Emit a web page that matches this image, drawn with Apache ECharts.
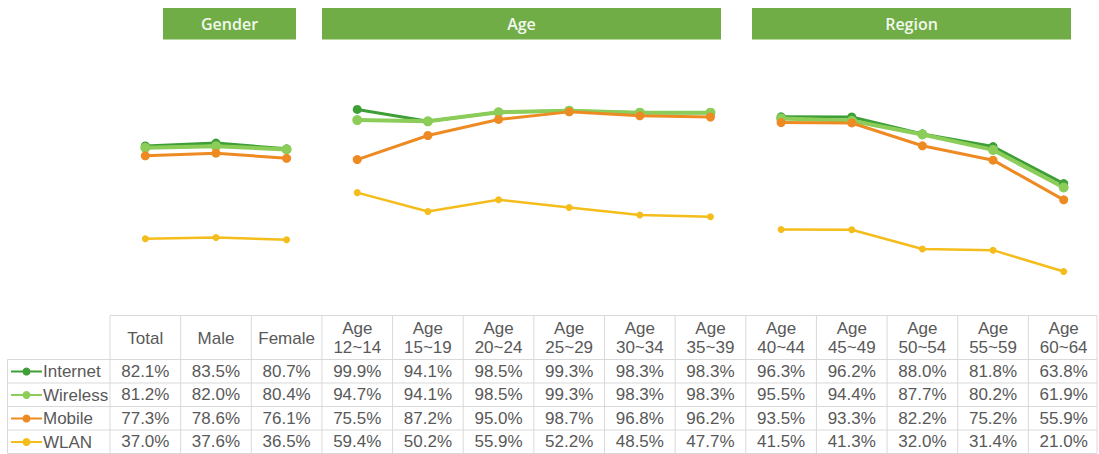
<!DOCTYPE html>
<html>
<head>
<meta charset="utf-8">
<script src="https://cdn.jsdelivr.net/npm/echarts@6/dist/echarts.min.js"></script>
<style>
  html, body { margin: 0; padding: 0; background: #ffffff; }
  #chart { width: 1099px; height: 454px; }
</style>
</head>
<body>
<div id="chart"></div>
<script>
// ---- data ----
const categories = ['Total', 'Male', 'Female',
  'Age\n12~14', 'Age\n15~19', 'Age\n20~24', 'Age\n25~29', 'Age\n30~34', 'Age\n35~39',
  'Age\n40~44', 'Age\n45~49', 'Age\n50~54', 'Age\n55~59', 'Age\n60~64'];
const seriesNames = ['Internet', 'Wireless', 'Mobile', 'WLAN'];
const internet = [82.1, 83.5, 80.7, 99.9, 94.1, 98.5, 99.3, 98.3, 98.3, 96.3, 96.2, 88.0, 81.8, 63.8];
const wireless = [81.2, 82.0, 80.4, 94.7, 94.1, 98.5, 99.3, 98.3, 98.3, 95.5, 94.4, 87.7, 80.2, 61.9];
const mobile   = [77.3, 78.6, 76.1, 75.5, 87.2, 95.0, 98.7, 96.8, 96.2, 93.5, 93.3, 82.2, 75.2, 55.9];
const wlan     = [37.0, 37.6, 36.5, 59.4, 50.2, 55.9, 52.2, 48.5, 47.7, 41.5, 41.3, 32.0, 31.4, 21.0];
const groupTitles = ['Gender', 'Age', 'Region'];
const groupRanges = [[0, 2], [3, 8], [9, 13]];

// ---- styles ----
const allValues = [internet, wireless, mobile, wlan];
const styles = [
  { color: '#3e9f37', width: 3,   symbol: 9 },
  { color: '#8ccd5a', width: 4,   symbol: 10 },
  { color: '#ee8a22', width: 3,   symbol: 9 },
  { color: '#f4bd1b', width: 2.5, symbol: 7 }
];
const textColor = '#595959';
const gridColor = '#d9d9d9';
const fontFamily = '"Liberation Sans", Arial, sans-serif';

const series = [];
seriesNames.forEach((name, si) => {
  groupRanges.forEach((r) => {
    series.push({
      name: name,
      type: 'line',
      clip: false,
      symbol: 'circle',
      symbolSize: styles[si].symbol,
      itemStyle: { color: styles[si].color },
      lineStyle: { color: styles[si].color, width: styles[si].width },
      emphasis: { disabled: true },
      data: allValues[si].map((v, i) => (i >= r[0] && i <= r[1]) ? v : null)
    });
  });
});

const chart = echarts.init(document.getElementById('chart'), null, { renderer: 'svg' });
chart.setOption({
  animation: false,
  grid: { left: 110, right: -2, top: 109.2, bottom: 139.3 },
  xAxis: {
    type: 'category',
    data: categories,
    boundaryGap: true,
    axisLine: { show: false },
    axisTick: { show: false },
    splitLine: { show: false },
    axisLabel: {
      interval: 0, color: textColor, fontSize: 17, fontFamily: fontFamily,
      lineHeight: 19, margin: 23.5, verticalAlign: 'middle'
    }
  },
  yAxis: { type: 'value', min: 0, max: 100, show: false },
  legend: {
    data: seriesNames,
    orient: 'vertical',
    left: 10, top: 362.5, padding: 0,
    itemWidth: 31, itemHeight: 10, itemGap: 5.5,
    selectedMode: false,
    textStyle: { color: textColor, fontSize: 17, fontFamily: fontFamily, lineHeight: 18, padding: [0, 0, 0, -4] }
  },
  series: series
});

// ---- table & headers ----
const n = categories.length;
const centers = categories.map((c, i) => chart.convertToPixel({ xAxisIndex: 0 }, i));
const band = centers[1] - centers[0];
const tableTop = 315.5, headBottom = 359.5, rowH = 23.5, labelLeft = 7.5, tableRight = 1097;
const rowTops = [0, 1, 2, 3, 4].map(k => headBottom + k * rowH);
const tableLeft = centers[0] - band / 2;
const graphic = [];
const lineStyle = { stroke: gridColor, lineWidth: 1 };
// horizontal lines
graphic.push({ type: 'line', shape: { x1: tableLeft, y1: tableTop, x2: tableRight, y2: tableTop }, style: lineStyle, silent: true });
rowTops.forEach(y => {
  graphic.push({ type: 'line', shape: { x1: labelLeft, y1: y, x2: tableRight, y2: y }, style: lineStyle, silent: true });
});
// vertical lines
graphic.push({ type: 'line', shape: { x1: labelLeft, y1: headBottom, x2: labelLeft, y2: rowTops[4] }, style: lineStyle, silent: true });
for (let i = 0; i < n; i++) {
  const x = centers[i] - band / 2;
  graphic.push({ type: 'line', shape: { x1: x, y1: tableTop, x2: x, y2: rowTops[4] }, style: lineStyle, silent: true });
}
graphic.push({ type: 'line', shape: { x1: tableRight, y1: tableTop, x2: tableRight, y2: rowTops[4] }, style: lineStyle, silent: true });
// cell values
allValues.forEach((vals, si) => {
  vals.forEach((v, i) => {
    graphic.push({
      type: 'text', silent: true,
      x: centers[i], y: rowTops[si] + rowH / 2,
      style: { text: v.toFixed(1) + '%', fill: textColor, font: '17px ' + fontFamily, align: 'center', verticalAlign: 'middle' }
    });
  });
});
// group title boxes
const boxes = [[163, 296], [322, 721], [752, 1071]];
groupTitles.forEach((t, gi) => {
  const b = boxes[gi];
  graphic.push({ type: 'rect', silent: true, shape: { x: b[0], y: 8, width: b[1] - b[0], height: 31.5 }, style: { fill: '#70ad47' } });
  graphic.push({
    type: 'text', silent: true, x: (b[0] + b[1]) / 2, y: 23.5,
    style: { text: t, fill: '#f3f8ee', font: '600 16px "Open Sans", "Noto Sans", sans-serif', align: 'center', verticalAlign: 'middle' }
  });
});
chart.setOption({ graphic: graphic });
</script>
</body>
</html>
